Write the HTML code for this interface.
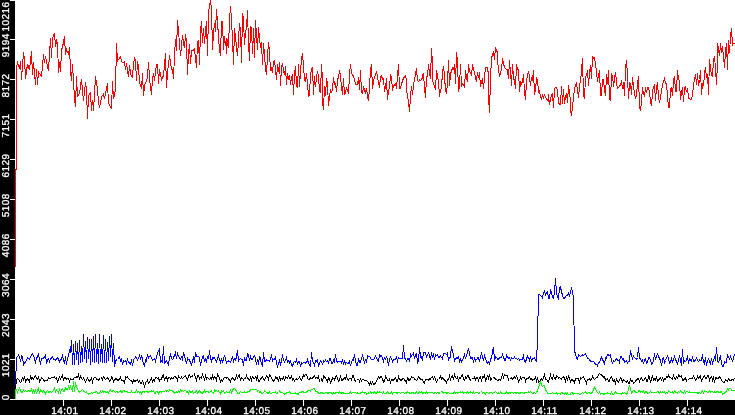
<!DOCTYPE html>
<html><head><meta charset="utf-8"><title>chart</title>
<style>
html,body{margin:0;padding:0;background:#fff;width:735px;height:415px;overflow:hidden;font-family:"Liberation Sans",sans-serif;}
</style></head>
<body>
<svg width="735" height="415" viewBox="0 0 735 415" style="position:absolute;left:0;top:0;display:block">
<rect x="0" y="0" width="735" height="415" fill="#fff"/>
<g fill="none" stroke-width="1" shape-rendering="crispEdges" stroke-linejoin="miter" stroke-linecap="butt">
<polyline stroke="#f00" points="15.5,266.5 15.5,169 16.5,169 16.5,67 17.5,62.5 19.5,68.5 20.5,61 21.5,79.5 23.5,52.5 24.5,59 25.5,78.5 27.5,64 29.5,70 31.5,51.5 32.5,75 33.5,62.5 35.5,84.5 36.5,69 37.5,84.5 38.5,72 41.5,76.5 43.5,54.5 44.5,63 45.5,56 48.5,71 50.5,38 51.5,58 52.5,38 54.5,33 55.5,47 56.5,40.5 57.5,43 58.5,73 59.5,62.5 60.5,72 61.5,50.5 63.5,42.5 64.5,36.5 65.5,55 66.5,49.5 68.5,54 69.5,47.5 70.5,70.5 71.5,81 72.5,64.5 74.5,98 75.5,107 76.5,76.5 77.5,96 79.5,93.5 81.5,79 83.5,101 85.5,82 86.5,90.5 87.5,118.5 88.5,96.5 90.5,92 91.5,111 92.5,100 93.5,110.5 95.5,76.5 97.5,89 98.5,102 99.5,108 101.5,97 103.5,94 104.5,99 107.5,83 108.5,103 111.5,109 112.5,81 113.5,99 115.5,90 116.5,43.5 117.5,61 118.5,59.5 120.5,57 121.5,61.5 122.5,62.5 124.5,62 125.5,70 126.5,63.5 128.5,77 129.5,65 130.5,73.5 132.5,78 133.5,63 134.5,58.5 135.5,60.5 136.5,80.5 137.5,61 138.5,66 139.5,82.5 141.5,88.5 142.5,73 143.5,96 144.5,85.5 146.5,80.5 147.5,77 148.5,62 149.5,78.5 151.5,94.5 152.5,78.5 153.5,73 154.5,80.5 156.5,64.5 157.5,64.5 158.5,83.5 159.5,69.5 161.5,79.5 163.5,75.5 164.5,64.5 165.5,53.5 166.5,88 167.5,72.5 169.5,55.5 171.5,69.5 172.5,69.5 173.5,78.5 174.5,55 175.5,39.5 176.5,51 177.5,20.5 178.5,31 179.5,43.5 180.5,56 182.5,35 183.5,43.5 184.5,48 185.5,34.5 186.5,42 187.5,75 188.5,53.5 189.5,44.5 190.5,64 191.5,50.5 193.5,50 194.5,49 196.5,68 197.5,42 198.5,41 199.5,65 200.5,30.5 201.5,21.5 202.5,43 203.5,28.5 204.5,43.5 205.5,31 206.5,21.5 207.5,56 208.5,13.5 209.5,5 210.5,0.5 211.5,8.5 212.5,50 213.5,33 214.5,23.5 215.5,32 216.5,9.5 217.5,21.5 218.5,37 219.5,50.5 220.5,56 221.5,21.5 222.5,21.5 223.5,49.5 224.5,36.5 225.5,45.5 226.5,38 226.5,53.5 227.5,39 228.5,48 229.5,19 230.5,6.5 231.5,20 232.5,39 233.5,65 234.5,28.5 235.5,37 236.5,47 237.5,56 239.5,23.5 240.5,29.5 241.5,63 242.5,13.5 243.5,19 244.5,45 245.5,31 246.5,29 247.5,10.5 248.5,43.5 249.5,61 250.5,26 251.5,29 252.5,53.5 253.5,28.5 254.5,57.5 255.5,20.5 256.5,34.5 257.5,50 258.5,27.5 259.5,38 260.5,47.5 261.5,42.5 262.5,65 263.5,43.5 264.5,54 265.5,69.5 266.5,75 267.5,56.5 268.5,42 269.5,52.5 270.5,70 271.5,68 272.5,73 273.5,61.5 274.5,61 275.5,69.5 276.5,80 277.5,64.5 278.5,72 279.5,62 280.5,86 281.5,67 282.5,63.5 283.5,71 284.5,75 285.5,66.5 286.5,85 287.5,73 288.5,78 289.5,75 290.5,84.5 291.5,78.5 292.5,74.5 293.5,94.5 294.5,73.5 295.5,66 296.5,85 297.5,88 298.5,64.5 299.5,87 300.5,71 301.5,59.5 302.5,53 303.5,67 304.5,79 305.5,82 306.5,73 307.5,84 308.5,96 309.5,95 310.5,74 311.5,69.5 312.5,67.5 313.5,94.5 314.5,76.5 315.5,87 316.5,77.5 317.5,71 318.5,77 319.5,90.5 320.5,92.5 321.5,64.5 322.5,79 322.5,101.5 323.5,110 324.5,86 325.5,95.5 326.5,78.5 327.5,84 328.5,106 329.5,96 330.5,89.5 331.5,93 332.5,88.5 333.5,77.5 334.5,84 335.5,83.5 336.5,92 337.5,79.5 338.5,77.5 339.5,70.5 340.5,76 341.5,87 342.5,95 343.5,78.5 344.5,95 345.5,92.5 346.5,87.5 347.5,91 348.5,93.5 349.5,74.5 350.5,64.5 351.5,72.5 352.5,75.5 353.5,76 354.5,80.5 355.5,84 357.5,84 358.5,77.5 359.5,90 360.5,70 361.5,92.5 362.5,93 363.5,86.5 364.5,90.5 365.5,93 366.5,88 367.5,96 368.5,101 369.5,87.5 370.5,69 371.5,64.5 372.5,88.5 373.5,82 374.5,76.5 375.5,75.5 376.5,71 377.5,76.5 378.5,82.5 379.5,88 380.5,76.5 381.5,76 382.5,79 383.5,78.5 384.5,92 385.5,87 386.5,78.5 387.5,100 388.5,90.5 389.5,87 390.5,75 391.5,76.5 392.5,90.5 393.5,85 394.5,85 395.5,84 396.5,88.5 397.5,76.5 398.5,64 399.5,88.5 400.5,88.5 401.5,84 402.5,81 403.5,78 405.5,76 406.5,79.5 406.5,90.5 407.5,95 408.5,102.5 409.5,111.5 410.5,97 411.5,86 412.5,95 413.5,84.5 414.5,79.5 415.5,74 416.5,68.5 417.5,80.5 418.5,81.5 419.5,80 420.5,80.5 422.5,78 422.5,76 423.5,73 424.5,88.5 425.5,98 426.5,77.5 427.5,75.5 428.5,64 429.5,74 430.5,78.5 431.5,48.5 432.5,63.5 432.5,81 434.5,86 435.5,90 436.5,70.5 437.5,76 438.5,81 439.5,97 440.5,89.5 441.5,88.5 442.5,71 443.5,66.5 444.5,75.5 445.5,91 446.5,93.5 447.5,83 448.5,60.5 449.5,85.5 450.5,74 451.5,71 452.5,68 453.5,69 454.5,64.5 455.5,84 456.5,52.5 457.5,61.5 458.5,92 459.5,86 460.5,64 461.5,86.5 462.5,83.5 463.5,84.5 464.5,88 465.5,70.5 466.5,78 467.5,82 468.5,64.5 469.5,71.5 470.5,72.5 471.5,76 472.5,64.5 473.5,70 474.5,71.5 475.5,79 476.5,81 477.5,72 478.5,77.5 479.5,72 480.5,87 481.5,81 482.5,78.5 483.5,89 484.5,76.5 485.5,67.5 487.5,67.5 488.5,75.5 488.5,97 489.5,112.5 490.5,78 491.5,58.5 492.5,54.5 493.5,52 494.5,59.5 495.5,47.5 496.5,51.5 497.5,52 497.5,60 498.5,69 499.5,77 501.5,69 502.5,58.5 503.5,63.5 504.5,67.5 506.5,69.5 507.5,70 508.5,79 509.5,60.5 510.5,72.5 511.5,85.5 512.5,64 513.5,78 514.5,81 515.5,89 516.5,64.5 517.5,69 518.5,69.5 519.5,92 520.5,81.5 521.5,84 522.5,81 523.5,74.5 524.5,92 525.5,99.5 526.5,81 527.5,75.5 528.5,71 529.5,77.5 530.5,85.5 531.5,77.5 532.5,80.5 533.5,70 534.5,95 535.5,89 536.5,78.5 537.5,80.5 538.5,92 539.5,90.5 540.5,96.5 541.5,100 542.5,94.5 543.5,98.5 544.5,94 545.5,97.5 547.5,100 548.5,101 548.5,94 549.5,105 550.5,100 551.5,95 552.5,94 553.5,108 554.5,89 555.5,87 556.5,87 557.5,91 558.5,103 559.5,104 560.5,104 561.5,86.5 562.5,103.5 563.5,89.5 564.5,103.5 565.5,96.5 566.5,93 567.5,103 568.5,85 569.5,92 570.5,101.5 570.5,110.5 571.5,116 572.5,107 573.5,96.5 574.5,90 575.5,84.5 576.5,83 577.5,90.5 578.5,98 579.5,85.5 580.5,81 581.5,70.5 582.5,58.5 583.5,95.5 584.5,98.5 585.5,77 586.5,75.5 587.5,70 588.5,85.5 589.5,72.5 590.5,65 591.5,78.5 592.5,56.5 593.5,58 594.5,57.5 595.5,64 596.5,72.5 597.5,81.5 598.5,75.5 599.5,70 600.5,95 601.5,95 602.5,79.5 603.5,79.5 604.5,90.5 605.5,96 606.5,74.5 607.5,83.5 608.5,70 609.5,99 610.5,101 611.5,73.5 612.5,76 613.5,86.5 614.5,79 615.5,72 616.5,82.5 617.5,88.5 618.5,87.5 619.5,86 620.5,85.5 621.5,80 622.5,89 623.5,82.5 624.5,95.5 625.5,68.5 626.5,60 627.5,75.5 628.5,99 629.5,83 630.5,84 631.5,94.5 632.5,77 633.5,87 634.5,93.5 635.5,99 636.5,95 637.5,84 638.5,76 639.5,107.5 640.5,111 641.5,100.5 642.5,87.5 643.5,93.5 644.5,97 645.5,87 646.5,93 647.5,87 648.5,87 649.5,92 650.5,101 651.5,106 652.5,92 653.5,86.5 654.5,85 655.5,100.5 656.5,88 657.5,82.5 658.5,96.5 659.5,103 660.5,96.5 661.5,92 662.5,85 663.5,81 664.5,78.5 665.5,83.5 666.5,84 667.5,96.5 668.5,107.5 669.5,107.5 670.5,89.5 671.5,87 672.5,96 673.5,81 674.5,76 675.5,91 676.5,91 677.5,70.5 678.5,78.5 679.5,81 680.5,100 681.5,92 682.5,87.5 683.5,102 684.5,88 685.5,87 686.5,92 687.5,88.5 688.5,98 690.5,99.5 691.5,99.5 692.5,95 693.5,85.5 694.5,79.5 695.5,74 696.5,84.5 697.5,73 698.5,86 699.5,79.5 700.5,70 701.5,94.5 702.5,83 703.5,86 704.5,74 705.5,67 706.5,78 707.5,74 708.5,94.5 709.5,59 710.5,68.5 711.5,75 712.5,76 713.5,60 714.5,56 715.5,68.5 716.5,84.5 717.5,61.5 717.5,43 718.5,49 719.5,56 720.5,43.5 721.5,52.5 722.5,46 724.5,67.5 725.5,51 726.5,43.5 727.5,69.5 728.5,40 729.5,53 730.5,36.5 731.5,28.5 732.5,45 733.5,43 735.5,43"/>
<polyline stroke="#0f0" points="15.5,398.5 15.5,390 16.5,389.5 17.5,392.5 18.5,390 19.5,388 20.5,390.5 21.5,392.5 22.5,392.5 23.5,390 24.5,391.5 25.5,390.5 26.5,391.5 27.5,391 28.5,390.5 29.5,391 30.5,391.5 31.5,389 32.5,393 33.5,390.5 34.5,392.5 35.5,390.5 36.5,393 37.5,390.5 38.5,388.5 39.5,393.5 40.5,390 41.5,391 42.5,392 43.5,391 44.5,391.5 45.5,393.5 46.5,391.5 47.5,390.5 48.5,392 49.5,392 50.5,391.5 51.5,392.5 52.5,391.5 53.5,390 54.5,388 55.5,392 56.5,390 57.5,391.5 58.5,393 59.5,389.5 60.5,392.5 61.5,389.5 62.5,388.5 63.5,391 64.5,391 65.5,388 66.5,389 67.5,389.5 68.5,386 69.5,388.5 70.5,386.5 71.5,389 72.5,391.5 73.5,381.5 74.5,391.5 75.5,382 76.5,387.5 77.5,389 78.5,390.5 79.5,392.5 80.5,391.5 81.5,390.5 82.5,389.5 83.5,391 84.5,391.5 85.5,392.5 86.5,392 87.5,393.5 88.5,394 89.5,393.5 90.5,393.5 91.5,392.5 92.5,393.5 93.5,392.5 94.5,392.5 95.5,392 96.5,391.5 97.5,393 98.5,393.5 99.5,393 100.5,391 101.5,392.5 102.5,391 103.5,392 104.5,391.5 105.5,392 106.5,392.5 107.5,392 108.5,393 109.5,391 110.5,390 111.5,391.5 112.5,391 113.5,390.5 114.5,391.5 115.5,392.5 116.5,391.5 117.5,392 118.5,392.5 119.5,391.5 120.5,391 121.5,392 122.5,392 123.5,390.5 124.5,391 125.5,391.5 126.5,391.5 127.5,392 128.5,392 129.5,392.5 130.5,392.5 131.5,391 132.5,392.5 133.5,392.5 134.5,392.5 135.5,392.5 136.5,390 137.5,392 138.5,391.5 139.5,393 140.5,391.5 141.5,393.5 142.5,391.5 143.5,391.5 144.5,392 145.5,391 146.5,391 147.5,392 148.5,392 149.5,391.5 150.5,391.5 151.5,391 152.5,391.5 153.5,391 154.5,393.5 155.5,393 156.5,391.5 157.5,391.5 158.5,393.5 159.5,391.5 160.5,391.5 161.5,392 162.5,391 163.5,391 164.5,391.5 165.5,390.5 166.5,391 167.5,390.5 168.5,391.5 169.5,390 170.5,390.5 171.5,390.5 172.5,391 173.5,392 174.5,393 175.5,392.5 176.5,392 177.5,392.5 178.5,391 179.5,392.5 180.5,390 181.5,391 182.5,390.5 183.5,391.5 184.5,390.5 185.5,390.5 186.5,392 187.5,391.5 188.5,393.5 189.5,390.5 190.5,392 191.5,392 192.5,391 193.5,393 194.5,392 195.5,392 196.5,391 197.5,393 198.5,392 199.5,391 200.5,392 201.5,393 202.5,393 203.5,392.5 204.5,390.5 205.5,392.5 206.5,391.5 207.5,391.5 208.5,392 209.5,392.5 210.5,391.5 211.5,391 212.5,392.5 213.5,393.5 214.5,390 215.5,391 216.5,390.5 217.5,391.5 218.5,391 219.5,392.5 220.5,394 221.5,391 222.5,391.5 223.5,391 224.5,393.5 225.5,392.5 226.5,391.5 227.5,392.5 228.5,392 229.5,392 230.5,390 231.5,392.5 232.5,390.5 233.5,388.5 234.5,388.5 235.5,389.5 236.5,391.5 237.5,393 238.5,393.5 239.5,393 240.5,391.5 241.5,392.5 242.5,392.5 243.5,392.5 244.5,392 245.5,392.5 246.5,392 247.5,392 248.5,391.5 249.5,391 250.5,390 251.5,389 252.5,389 253.5,389.5 254.5,389.5 255.5,389 256.5,389 257.5,391.5 258.5,390.5 259.5,392 260.5,391.5 261.5,393.5 262.5,393.5 263.5,392.5 264.5,391 265.5,391.5 266.5,392.5 267.5,393 268.5,393 269.5,392 270.5,393.5 271.5,393.5 272.5,392.5 273.5,392.5 274.5,392.5 275.5,392 276.5,393.5 277.5,393 278.5,392.5 279.5,391 280.5,392 281.5,392 282.5,392.5 283.5,393.5 284.5,394 285.5,393 286.5,393 287.5,392.5 288.5,392.5 289.5,391.5 290.5,393.5 291.5,393 292.5,393 293.5,393 294.5,393.5 295.5,393 296.5,393.5 297.5,394 298.5,394 299.5,392.5 300.5,392.5 301.5,392 302.5,391.5 303.5,392 304.5,392.5 305.5,392 306.5,392 307.5,391 308.5,390.5 309.5,390.5 310.5,391 311.5,389.5 312.5,389.5 313.5,388.5 314.5,389 315.5,391 316.5,391 317.5,392 318.5,393 319.5,393.5 320.5,393 321.5,392.5 322.5,393 323.5,393.5 324.5,393.5 325.5,392.5 326.5,392.5 327.5,393 328.5,393 329.5,392.5 330.5,392.5 331.5,393 332.5,394 333.5,393 334.5,393.5 335.5,393 336.5,392.5 337.5,392.5 338.5,393 339.5,392 340.5,393 341.5,393 342.5,392.5 343.5,393 344.5,393 345.5,393.5 346.5,393.5 347.5,393 348.5,393 349.5,393 350.5,392 351.5,393.5 352.5,392.5 353.5,392.5 354.5,392.5 355.5,392.5 356.5,393.5 357.5,393 358.5,393.5 359.5,393 360.5,393 361.5,392.5 362.5,392 363.5,392.5 364.5,393 365.5,392.5 366.5,394 367.5,393.5 368.5,393 369.5,393.5 370.5,392 371.5,393 372.5,392.5 373.5,393 374.5,392 375.5,393 376.5,393 377.5,392 378.5,392.5 379.5,392 380.5,392.5 381.5,392.5 382.5,393.5 383.5,392 384.5,393.5 385.5,393 386.5,393 387.5,392 388.5,393 389.5,393.5 390.5,393 391.5,392 392.5,394 393.5,392.5 394.5,392 395.5,392 396.5,393 397.5,393 398.5,392.5 399.5,392.5 400.5,393.5 401.5,392.5 402.5,392.5 403.5,392.5 404.5,393.5 405.5,392.5 406.5,393 407.5,392 408.5,392.5 409.5,393 410.5,393 411.5,393 412.5,392.5 413.5,393 414.5,393 415.5,393 416.5,392 417.5,393.5 418.5,393 419.5,392 420.5,392.5 421.5,392 422.5,393 423.5,393 424.5,392.5 425.5,393.5 426.5,391.5 427.5,393 428.5,392.5 429.5,392.5 430.5,392 431.5,392 432.5,392 433.5,393.5 434.5,393 435.5,392.5 436.5,393.5 437.5,392.5 438.5,393 439.5,393 440.5,392.5 441.5,391.5 442.5,392 443.5,393 444.5,392 445.5,392 446.5,393 447.5,393 448.5,392.5 449.5,393.5 450.5,393 451.5,393 452.5,393 453.5,393 454.5,392 455.5,393 456.5,392.5 457.5,393 458.5,392.5 459.5,392.5 460.5,392 461.5,392.5 462.5,392 463.5,393 464.5,392 465.5,392 466.5,393 467.5,392 468.5,393 469.5,392.5 470.5,392 471.5,392.5 472.5,393 473.5,392 474.5,393.5 475.5,392 476.5,392 477.5,392.5 478.5,393.5 479.5,393 480.5,392.5 481.5,391.5 482.5,393 483.5,392.5 484.5,393 485.5,394 486.5,392.5 487.5,392.5 488.5,393.5 489.5,393 490.5,392.5 491.5,392.5 492.5,393.5 493.5,392.5 494.5,392.5 495.5,391.5 496.5,392.5 497.5,393.5 498.5,393 499.5,393.5 500.5,392 501.5,393 502.5,393 503.5,393 504.5,393 505.5,393 506.5,391.5 507.5,393.5 508.5,393 509.5,392.5 510.5,393 511.5,392.5 512.5,392.5 513.5,393.5 514.5,392.5 515.5,393 516.5,393 517.5,392.5 518.5,393 519.5,393.5 520.5,393 521.5,392.5 522.5,392.5 523.5,393.5 524.5,393 525.5,392.5 526.5,392.5 527.5,392.5 528.5,392 529.5,392.5 530.5,391.5 531.5,392.5 532.5,393.5 533.5,393 534.5,392.5 535.5,393.5 536.5,392 537.5,391 538.5,387.5 539.5,384 540.5,382 541.5,385 542.5,386.5 543.5,385.5 544.5,386 545.5,389.5 546.5,391.5 547.5,393 548.5,393.5 549.5,393.5 550.5,393.5 551.5,393.5 552.5,392.5 553.5,393.5 554.5,393.5 555.5,393.5 556.5,393 557.5,394 558.5,393.5 559.5,393.5 560.5,394 561.5,392.5 562.5,393 563.5,393.5 564.5,394.5 565.5,392.5 566.5,394 567.5,393 568.5,394.5 569.5,394 570.5,394 571.5,392.5 572.5,392.5 573.5,394.5 574.5,393 575.5,393 576.5,393.5 577.5,393 578.5,393 579.5,394.5 580.5,394.5 581.5,393.5 582.5,392.5 583.5,393.5 584.5,392.5 585.5,392 586.5,393 587.5,393.5 588.5,392.5 589.5,393 590.5,393 591.5,393 592.5,392.5 593.5,389.5 594.5,387.5 595.5,389.5 596.5,391 597.5,392.5 598.5,393.5 599.5,392 600.5,394 601.5,393.5 602.5,393.5 603.5,394 604.5,394 605.5,393.5 606.5,393.5 607.5,393 608.5,393.5 609.5,393.5 610.5,394 611.5,392 612.5,394 613.5,394.5 614.5,393 615.5,391.5 616.5,393.5 617.5,393 618.5,393 619.5,393 620.5,393.5 621.5,394 622.5,393 623.5,393.5 624.5,392.5 625.5,393.5 626.5,394 627.5,393 628.5,389.5 629.5,385 630.5,389 631.5,393 632.5,392 633.5,390.5 634.5,391 635.5,392 636.5,392.5 637.5,392.5 638.5,391 639.5,390.5 640.5,392.5 641.5,391.5 642.5,392 643.5,391 644.5,393 645.5,392 646.5,391.5 647.5,393.5 648.5,393.5 649.5,392.5 650.5,391 651.5,392.5 652.5,392 653.5,392 654.5,392.5 655.5,392.5 656.5,392.5 657.5,391.5 658.5,392 659.5,393 660.5,392 661.5,392.5 662.5,392 663.5,392.5 664.5,392 665.5,393.5 666.5,392.5 667.5,393 668.5,391 669.5,391.5 670.5,392.5 671.5,392.5 672.5,392 673.5,393 674.5,391 675.5,392 676.5,392.5 677.5,393 678.5,391.5 679.5,392.5 680.5,391 681.5,392 682.5,392.5 683.5,393 684.5,391 685.5,393 686.5,391.5 687.5,391.5 688.5,392.5 689.5,392 690.5,392.5 691.5,392 692.5,392 693.5,392 694.5,392 695.5,392 696.5,392 697.5,393 698.5,393 699.5,392.5 700.5,393.5 701.5,392 702.5,391 703.5,393 704.5,391 705.5,391.5 706.5,391.5 707.5,392.5 708.5,392 709.5,391 710.5,392 711.5,391.5 712.5,391.5 713.5,392.5 714.5,392 715.5,392.5 716.5,392 717.5,391.5 718.5,392 719.5,392.5 720.5,392 721.5,391.5 722.5,394 723.5,393.5 724.5,393.5 725.5,391.5 726.5,391 727.5,389 728.5,390 729.5,388.5 730.5,388.5 731.5,390 732.5,390 733.5,390.5 734.5,391"/>
<polyline stroke="#000" points="15.5,389.5 16.5,379.5 17.5,378.5 18.5,379.5 19.5,381 20.5,382.5 21.5,381.5 22.5,377 23.5,380.5 24.5,376 25.5,381.5 26.5,379.5 27.5,379 28.5,379.5 29.5,382.5 30.5,375.5 31.5,379 32.5,378 33.5,379 34.5,376.5 35.5,376 36.5,378 37.5,379.5 38.5,376.5 39.5,382 40.5,379.5 41.5,378 42.5,378.5 43.5,379.5 44.5,381.5 45.5,380 46.5,380 47.5,380.5 48.5,378 49.5,378.5 50.5,378.5 51.5,377.5 52.5,377.5 53.5,377.5 54.5,377 55.5,378.5 56.5,377.5 57.5,382 58.5,379.5 59.5,377 60.5,379 61.5,377.5 62.5,375.5 63.5,380 64.5,378 65.5,377.5 66.5,379.5 67.5,378.5 68.5,378.5 69.5,381.5 70.5,378.5 71.5,379.5 72.5,379.5 73.5,379 74.5,377.5 75.5,377.5 76.5,377 77.5,377.5 78.5,374.5 79.5,379 80.5,376.5 81.5,378.5 82.5,379.5 83.5,378 84.5,380.5 85.5,382 86.5,380 87.5,378 88.5,379.5 89.5,381.5 90.5,380.5 91.5,378.5 92.5,382 93.5,378.5 94.5,377.5 95.5,377.5 96.5,379 97.5,379 98.5,380 99.5,379 100.5,378.5 101.5,377.5 102.5,379.5 103.5,377 104.5,378 105.5,379.5 106.5,378.5 107.5,378 108.5,379 109.5,381 110.5,380.5 111.5,377 112.5,377.5 113.5,382 114.5,379.5 115.5,379 116.5,378.5 117.5,380.5 118.5,380 119.5,379.5 120.5,377.5 121.5,380 122.5,380.5 123.5,380.5 124.5,383.5 125.5,377 126.5,377.5 127.5,377 128.5,378.5 129.5,379.5 130.5,380.5 131.5,380.5 132.5,383 133.5,380 134.5,381 135.5,381 136.5,380.5 137.5,380 138.5,382 139.5,381 140.5,383.5 141.5,383.5 142.5,381 143.5,383 144.5,386.5 145.5,383 146.5,382.5 147.5,380 148.5,383.5 149.5,382 150.5,380.5 151.5,378 152.5,382 153.5,379.5 154.5,381 155.5,377 156.5,377 157.5,378.5 158.5,378 159.5,381 160.5,379.5 161.5,379 162.5,376 163.5,375 164.5,380.5 165.5,377.5 166.5,376.5 167.5,380.5 168.5,377.5 169.5,377.5 170.5,379 171.5,378 172.5,378.5 173.5,378 174.5,376.5 175.5,377 176.5,378 177.5,380.5 178.5,376 179.5,377.5 180.5,378.5 181.5,377 182.5,378.5 183.5,377.5 184.5,376.5 185.5,375.5 186.5,378 187.5,380 188.5,376 189.5,375 190.5,377.5 191.5,376 192.5,376 193.5,375.5 194.5,374 195.5,377.5 196.5,380.5 197.5,376 198.5,375.5 199.5,379 200.5,377.5 201.5,378.5 202.5,374.5 203.5,377 204.5,379.5 205.5,376 206.5,379 207.5,377.5 208.5,378.5 209.5,379.5 210.5,378 211.5,379 212.5,376 213.5,379 214.5,376.5 215.5,378 216.5,380.5 217.5,374.5 218.5,376.5 219.5,378 220.5,381.5 221.5,379.5 222.5,381 223.5,379 224.5,377 225.5,377 226.5,378 227.5,377.5 228.5,379 229.5,379.5 230.5,381.5 231.5,379 232.5,378 233.5,378.5 234.5,380.5 235.5,379 236.5,375.5 237.5,378 238.5,376 239.5,375 240.5,380 241.5,377.5 242.5,378.5 243.5,380 244.5,378.5 245.5,378.5 246.5,375.5 247.5,378.5 248.5,379 249.5,380 250.5,377.5 251.5,380.5 252.5,376.5 253.5,378 254.5,378.5 255.5,377 256.5,379.5 257.5,375.5 258.5,381.5 259.5,381.5 260.5,379 261.5,378 262.5,376.5 263.5,379 264.5,380.5 265.5,378 266.5,375.5 267.5,376.5 268.5,379.5 269.5,375 270.5,375.5 271.5,378.5 272.5,379.5 273.5,381.5 274.5,380.5 275.5,377 276.5,378 277.5,377.5 278.5,382 279.5,376.5 280.5,380 281.5,378.5 282.5,379 283.5,377 284.5,381 285.5,377 286.5,377.5 287.5,378.5 288.5,376 289.5,378.5 290.5,378.5 291.5,376 292.5,380.5 293.5,379 294.5,381 295.5,379.5 296.5,379 297.5,379.5 298.5,378.5 299.5,377 300.5,379 301.5,380 302.5,378 303.5,375 304.5,376 305.5,374 306.5,374 307.5,378 308.5,379.5 309.5,379.5 310.5,377.5 311.5,378.5 312.5,378.5 313.5,376.5 314.5,375.5 315.5,378 316.5,377.5 317.5,378.5 318.5,376.5 319.5,381 320.5,380.5 321.5,379 322.5,382 323.5,376 324.5,376.5 325.5,378.5 326.5,379.5 327.5,381.5 328.5,377.5 329.5,379 330.5,383 331.5,381 332.5,378 333.5,378.5 334.5,380 335.5,377 336.5,376 337.5,378.5 338.5,381 339.5,380.5 340.5,375.5 341.5,380.5 342.5,380.5 343.5,378.5 344.5,378 345.5,379 346.5,376 347.5,379.5 348.5,380.5 349.5,378 350.5,378 351.5,380 352.5,376 353.5,375.5 354.5,380 355.5,381 356.5,380.5 357.5,379 358.5,379 359.5,381.5 360.5,379 361.5,381 362.5,379.5 363.5,379.5 364.5,380.5 365.5,380 366.5,380 367.5,381.5 368.5,383 369.5,385 370.5,382 371.5,384 372.5,382 373.5,384.5 374.5,384 375.5,383.5 376.5,380.5 377.5,379 378.5,377 379.5,378.5 380.5,376.5 381.5,376.5 382.5,379 383.5,382 384.5,381.5 385.5,376 386.5,378 387.5,380.5 388.5,380.5 389.5,379 390.5,382.5 391.5,379.5 392.5,380 393.5,380 394.5,379 395.5,377.5 396.5,381 397.5,381 398.5,376.5 399.5,379.5 400.5,380 401.5,380 402.5,379 403.5,378.5 404.5,379.5 405.5,381.5 406.5,383 407.5,377 408.5,380 409.5,380 410.5,379 411.5,376.5 412.5,377.5 413.5,377.5 414.5,379 415.5,379 416.5,380.5 417.5,379.5 418.5,376.5 419.5,378 420.5,379 421.5,379.5 422.5,380 423.5,382 424.5,383 425.5,379.5 426.5,379.5 427.5,379.5 428.5,380.5 429.5,378.5 430.5,379 431.5,377.5 432.5,376.5 433.5,379 434.5,377 435.5,379.5 436.5,382 437.5,380 438.5,379.5 439.5,378 440.5,376 441.5,379 442.5,378 443.5,379 444.5,380 445.5,380.5 446.5,382.5 447.5,380 448.5,379.5 449.5,376 450.5,379.5 451.5,377 452.5,376 453.5,379.5 454.5,374.5 455.5,377.5 456.5,378.5 457.5,377 458.5,380.5 459.5,377.5 460.5,378.5 461.5,375.5 462.5,374.5 463.5,379.5 464.5,380.5 465.5,377 466.5,378.5 467.5,375.5 468.5,375.5 469.5,379.5 470.5,380 471.5,379.5 472.5,378.5 473.5,378.5 474.5,377 475.5,380 476.5,378 477.5,377.5 478.5,380.5 479.5,378 480.5,377 481.5,380.5 482.5,377 483.5,377.5 484.5,374.5 485.5,381.5 486.5,377.5 487.5,376 488.5,378.5 489.5,374.5 490.5,380 491.5,379 492.5,378.5 493.5,377.5 494.5,378 495.5,379 496.5,379 497.5,380.5 498.5,380 499.5,379.5 500.5,380.5 501.5,377.5 502.5,374.5 503.5,377.5 504.5,374.5 505.5,375.5 506.5,375.5 507.5,375.5 508.5,380 509.5,379.5 510.5,378.5 511.5,378 512.5,379 513.5,378 514.5,377 515.5,378 516.5,376 517.5,378 518.5,382 519.5,380.5 520.5,377 521.5,379 522.5,377.5 523.5,377.5 524.5,377.5 525.5,381 526.5,378 527.5,378 528.5,378 529.5,377 530.5,379.5 531.5,379 532.5,380 533.5,379.5 534.5,379 535.5,377 536.5,381 537.5,377.5 538.5,382.5 539.5,381.5 540.5,380 541.5,379 542.5,380.5 543.5,378 544.5,375 545.5,379 546.5,379 547.5,381 548.5,382 549.5,378.5 550.5,375 551.5,378.5 552.5,379 553.5,375.5 554.5,378.5 555.5,379 556.5,376 557.5,376.5 558.5,378 559.5,377.5 560.5,378.5 561.5,379 562.5,377.5 563.5,376.5 564.5,378.5 565.5,381.5 566.5,377.5 567.5,381 568.5,376 569.5,378 570.5,382 571.5,379.5 572.5,380 573.5,380.5 574.5,382.5 575.5,378.5 576.5,378.5 577.5,378.5 578.5,379 579.5,382 580.5,378 581.5,378.5 582.5,377.5 583.5,377 584.5,379.5 585.5,380.5 586.5,383.5 587.5,379.5 588.5,379.5 589.5,379 590.5,380 591.5,379.5 592.5,376 593.5,378.5 594.5,379.5 595.5,378.5 596.5,377.5 597.5,377 598.5,375 599.5,373.5 600.5,374.5 601.5,375 602.5,375.5 603.5,377.5 604.5,376.5 605.5,380.5 606.5,379.5 607.5,378.5 608.5,381 609.5,381.5 610.5,377.5 611.5,377 612.5,379.5 613.5,381.5 614.5,380 615.5,383 616.5,379 617.5,381.5 618.5,382 619.5,380.5 620.5,377.5 621.5,379 622.5,382 623.5,380 624.5,380.5 625.5,381.5 626.5,382 627.5,381 628.5,383.5 629.5,383.5 630.5,379.5 631.5,381.5 632.5,380.5 633.5,383.5 634.5,382.5 635.5,381 636.5,380 637.5,379 638.5,378.5 639.5,381.5 640.5,379 641.5,377.5 642.5,380 643.5,380.5 644.5,379 645.5,377.5 646.5,381 647.5,381.5 648.5,376 649.5,377 650.5,382.5 651.5,378.5 652.5,376 653.5,380 654.5,379 655.5,380.5 656.5,376 657.5,381 658.5,380.5 659.5,378.5 660.5,378 661.5,380 662.5,378 663.5,380.5 664.5,378.5 665.5,379.5 666.5,376.5 667.5,377.5 668.5,375.5 669.5,377.5 670.5,377.5 671.5,378.5 672.5,379 673.5,375.5 674.5,378 675.5,379 676.5,377 677.5,378.5 678.5,375 679.5,376 680.5,376.5 681.5,376 682.5,380 683.5,380 684.5,379 685.5,378 686.5,381 687.5,380.5 688.5,379.5 689.5,378.5 690.5,378 691.5,378 692.5,378.5 693.5,376 694.5,378 695.5,380 696.5,379 697.5,376.5 698.5,378.5 699.5,377 700.5,376 701.5,382 702.5,378.5 703.5,377 704.5,376 705.5,378 706.5,378 707.5,375.5 708.5,376 709.5,380.5 710.5,378 711.5,376.5 712.5,380 713.5,376.5 714.5,382.5 715.5,377.5 716.5,378 717.5,378 718.5,378.5 719.5,376.5 720.5,377.5 721.5,380 722.5,381.5 723.5,382.5 724.5,382 725.5,380 726.5,380.5 727.5,381 728.5,378.5 729.5,380 730.5,380.5 731.5,380 732.5,379.5 733.5,380.5 734.5,378"/>
<polyline stroke="#00f" points="15.5,385 16.5,357.5 17.5,356.5 18.5,355 19.5,356.5 20.5,362 21.5,356 22.5,356.5 23.5,365.5 24.5,363 25.5,362 26.5,360 27.5,358 28.5,358.5 29.5,359.5 30.5,357 31.5,355 32.5,353.5 33.5,356 34.5,357.5 35.5,363.5 36.5,357 37.5,357 38.5,353.5 39.5,360 40.5,363 41.5,359 42.5,358.5 43.5,358 44.5,357.5 45.5,354.5 46.5,364 47.5,359.5 48.5,358.5 49.5,361.5 50.5,359 51.5,358 52.5,357 53.5,359 54.5,359.5 55.5,360 56.5,359.5 57.5,357.5 58.5,359 59.5,362 60.5,360.5 61.5,358.5 62.5,355.5 63.5,360 64.5,364 65.5,356.5 66.5,365 67.5,357.5 68.5,356 69.5,350 70.5,352 71.5,340 72.5,364.5 73.5,344.5 74.5,364.5 75.5,341 76.5,360 77.5,343 78.5,364.5 79.5,340 80.5,363 81.5,346.5 82.5,362 83.5,334 84.5,359 85.5,341 86.5,363 87.5,337 88.5,359 89.5,339 90.5,364.5 91.5,339 92.5,362 93.5,336.5 94.5,363 95.5,334 96.5,362 97.5,343.5 98.5,364 99.5,334 100.5,362 101.5,344.5 102.5,363 103.5,335.5 104.5,363 105.5,339 106.5,363 107.5,342.5 108.5,361 109.5,336.5 110.5,357 111.5,334 112.5,362 113.5,343.5 114.5,366.5 115.5,361 116.5,360 117.5,359.5 118.5,358 119.5,356.5 120.5,362 121.5,358.5 122.5,365 123.5,361 124.5,361.5 125.5,360.5 126.5,363.5 127.5,359.5 128.5,362 129.5,363 130.5,364 131.5,361 132.5,365.5 133.5,360 134.5,358.5 135.5,357 136.5,357.5 137.5,360 138.5,359.5 139.5,355.5 140.5,358.5 141.5,356 142.5,359 143.5,364.5 144.5,366 145.5,360 146.5,361 147.5,354 148.5,358 149.5,356.5 150.5,356 151.5,358.5 152.5,360 153.5,359.5 154.5,359 155.5,361.5 156.5,357 157.5,352.5 158.5,351.5 159.5,349.5 160.5,363 161.5,360.5 162.5,362 163.5,346.5 164.5,364 165.5,361.5 166.5,361 167.5,363.5 168.5,365 169.5,357 170.5,354.5 171.5,358.5 172.5,359.5 173.5,358 174.5,355 175.5,352.5 176.5,358.5 177.5,353.5 178.5,356 179.5,358.5 180.5,359.5 181.5,356 182.5,360.5 183.5,352.5 184.5,355 185.5,360 186.5,363.5 187.5,358 188.5,359.5 189.5,360 190.5,363 191.5,365 192.5,360.5 193.5,357.5 194.5,362.5 195.5,352.5 196.5,356 197.5,356 198.5,356.5 199.5,358 200.5,365.5 201.5,361 202.5,357 203.5,355.5 204.5,361.5 205.5,358 206.5,363 207.5,356 208.5,359 209.5,350.5 210.5,359 211.5,361.5 212.5,357.5 213.5,358 214.5,357.5 215.5,360 216.5,362 217.5,358.5 218.5,355.5 219.5,360 220.5,362.5 221.5,358.5 222.5,362.5 223.5,358.5 224.5,356 225.5,358.5 226.5,363 227.5,361.5 228.5,361 229.5,361.5 230.5,362 231.5,360 232.5,356.5 233.5,361.5 234.5,359 235.5,360 236.5,357 237.5,350 238.5,361 239.5,359.5 240.5,358.5 241.5,359.5 242.5,359.5 243.5,365.5 244.5,357.5 245.5,360 246.5,360.5 247.5,353.5 248.5,355 249.5,360.5 250.5,356.5 251.5,359.5 252.5,359 253.5,357 254.5,356 255.5,358.5 256.5,364.5 257.5,359.5 258.5,365 259.5,356 260.5,359 261.5,364 262.5,366.5 263.5,352.5 264.5,361 265.5,361.5 266.5,359.5 267.5,360.5 268.5,360.5 269.5,361.5 270.5,358 271.5,355.5 272.5,361 273.5,359.5 274.5,359.5 275.5,356 276.5,364 277.5,366.5 278.5,364 279.5,361 280.5,364 281.5,361 282.5,354.5 283.5,360.5 284.5,362 285.5,360 286.5,357.5 287.5,362 288.5,360.5 289.5,363 290.5,360 291.5,365.5 292.5,366 293.5,363 294.5,361.5 295.5,362 296.5,359.5 297.5,365 298.5,361.5 299.5,361.5 300.5,367 301.5,362.5 302.5,363.5 303.5,362 304.5,362 305.5,363 306.5,362.5 307.5,359.5 308.5,363.5 309.5,364.5 310.5,367 311.5,352.5 312.5,361 313.5,363 314.5,365.5 315.5,360.5 316.5,361 317.5,360 318.5,365.5 319.5,363.5 320.5,360.5 321.5,361.5 322.5,365 323.5,360.5 324.5,361.5 325.5,360 326.5,361.5 327.5,360.5 328.5,363 329.5,359 330.5,358.5 331.5,363.5 332.5,363.5 333.5,360.5 334.5,363 335.5,354 336.5,361.5 337.5,362 338.5,361.5 339.5,361.5 340.5,361.5 341.5,363 342.5,359.5 343.5,365 344.5,360.5 345.5,364 346.5,362.5 347.5,363.5 348.5,363.5 349.5,361.5 350.5,366 351.5,362.5 352.5,359.5 353.5,360 354.5,354 355.5,361 356.5,365.5 357.5,365.5 358.5,358.5 359.5,362 360.5,362.5 361.5,358.5 362.5,355.5 363.5,359 364.5,362.5 365.5,360 366.5,362 367.5,356 368.5,356.5 369.5,356.5 370.5,358 371.5,359.5 372.5,359.5 373.5,359.5 374.5,358.5 375.5,356 376.5,358.5 377.5,359.5 378.5,362 379.5,354 380.5,356.5 381.5,356 382.5,358.5 383.5,361.5 384.5,357.5 385.5,359 386.5,357 387.5,359.5 388.5,366 389.5,358.5 390.5,357 391.5,358.5 392.5,362 393.5,359.5 394.5,359.5 395.5,359.5 396.5,357 397.5,361 398.5,357.5 399.5,358.5 400.5,358.5 401.5,358.5 402.5,358.5 403.5,345.5 404.5,358 405.5,359 406.5,361 407.5,359 408.5,358.5 409.5,362 410.5,353.5 411.5,356 412.5,354.5 413.5,353 414.5,359 415.5,355.5 416.5,353 417.5,363 418.5,361.5 419.5,347 420.5,357.5 421.5,356.5 422.5,360.5 423.5,352.5 424.5,352.5 425.5,352.5 426.5,357 427.5,355.5 428.5,353 429.5,355.5 430.5,359.5 431.5,352.5 432.5,358 433.5,353.5 434.5,359.5 435.5,354.5 436.5,355.5 437.5,354.5 438.5,357.5 439.5,357 440.5,356 441.5,357.5 442.5,359 443.5,353.5 444.5,353 445.5,353 446.5,354.5 447.5,353 448.5,361 449.5,357.5 450.5,357 451.5,346 452.5,351.5 453.5,354.5 454.5,361 455.5,359.5 456.5,357.5 457.5,358 458.5,356.5 459.5,361.5 460.5,359 461.5,362 462.5,361.5 463.5,357.5 464.5,354.5 465.5,359 466.5,355.5 467.5,352 468.5,348 469.5,353.5 470.5,358 471.5,358 472.5,357.5 473.5,362.5 474.5,357 475.5,361 476.5,359.5 477.5,358 478.5,357.5 479.5,362 480.5,357 481.5,353.5 482.5,356 483.5,361 484.5,355.5 485.5,358 486.5,362.5 487.5,363 488.5,361.5 489.5,365 490.5,359.5 491.5,357.5 492.5,352 493.5,347 494.5,360.5 495.5,357 496.5,357.5 497.5,359 498.5,359 499.5,358 500.5,357.5 501.5,357.5 502.5,354.5 503.5,357 504.5,360 505.5,360.5 506.5,355.5 507.5,357.5 508.5,358 509.5,357.5 510.5,360 511.5,358 512.5,358.5 513.5,358.5 514.5,357 515.5,358.5 516.5,358.5 517.5,359.5 518.5,358.5 519.5,360 520.5,359.5 521.5,359 522.5,359 523.5,356 524.5,361 525.5,362 526.5,359 527.5,356 528.5,358 529.5,360.5 530.5,356 531.5,362 532.5,358.5 533.5,358.5 534.5,358 535.5,360 536.5,361 537.5,339 538.5,295 539.5,294.5 541.5,296.5 542.5,298 543.5,293 544.5,291 545.5,295 546.5,293 547.5,291.5 548.5,298 549.5,298 550.5,290 551.5,292 552.5,297 553.5,298 554.5,292.5 555.5,278.5 556.5,292.5 557.5,297.5 558.5,299 559.5,287.5 560.5,287 561.5,292 562.5,295 563.5,298.5 564.5,298.5 565.5,296.5 566.5,295 567.5,295 568.5,293 569.5,297 570.5,292 571.5,288.5 572.5,291 573.5,298.5 574.5,351.5 575.5,353.5 576.5,358 577.5,359.5 578.5,355 579.5,355.5 580.5,356.5 581.5,355.5 582.5,355 583.5,355.5 584.5,354.5 585.5,354 586.5,356 587.5,358 588.5,358.5 589.5,360 590.5,361 591.5,361.5 592.5,361.5 593.5,361.5 594.5,362.5 595.5,364.5 596.5,364.5 597.5,366 598.5,362 599.5,362 600.5,360 601.5,357 602.5,359.5 603.5,361.5 604.5,365 605.5,357.5 606.5,358.5 607.5,354.5 608.5,355 609.5,355.5 610.5,355 611.5,361 612.5,363 613.5,361 614.5,361.5 615.5,360.5 616.5,358.5 617.5,360 618.5,360 619.5,362.5 620.5,356.5 621.5,357 622.5,359.5 623.5,358.5 624.5,362.5 625.5,361.5 626.5,361 627.5,363 628.5,361 629.5,361 630.5,350 631.5,356 632.5,358.5 633.5,356 634.5,357.5 635.5,358.5 636.5,359.5 637.5,357.5 638.5,347 639.5,358 640.5,359 641.5,361 642.5,360 643.5,364 644.5,360 645.5,358.5 646.5,363 647.5,362 648.5,357.5 649.5,358 650.5,360 651.5,364 652.5,363 653.5,360.5 654.5,353 655.5,360 656.5,356 657.5,354 658.5,356 659.5,359 660.5,359.5 661.5,366 662.5,360 663.5,357 664.5,362.5 665.5,360.5 666.5,358 667.5,356 668.5,358.5 669.5,363.5 670.5,362 671.5,359 672.5,362 673.5,360.5 674.5,355.5 675.5,360.5 676.5,361 677.5,364.5 678.5,360 679.5,355.5 680.5,360.5 681.5,366 682.5,349.5 683.5,364 684.5,360.5 685.5,361.5 686.5,360 687.5,357 688.5,362 689.5,359 690.5,360 691.5,361.5 692.5,356 693.5,361 694.5,361.5 695.5,359.5 696.5,358 697.5,360.5 698.5,361.5 699.5,360 700.5,360.5 701.5,360 702.5,354.5 703.5,362.5 704.5,364 705.5,357 706.5,366 707.5,360.5 708.5,359 709.5,361 710.5,364.5 711.5,358.5 712.5,363.5 713.5,361 714.5,357.5 715.5,361 716.5,347 717.5,361 718.5,362 719.5,360 720.5,355 721.5,364.5 722.5,366 723.5,366 724.5,361.5 725.5,362.5 726.5,362.5 727.5,354.5 728.5,357.5 729.5,359 730.5,356.5 731.5,359 732.5,361 733.5,358.5 734.5,354.5"/>
</g>
<g shape-rendering="crispEdges">
<rect x="0" y="0" width="15" height="415" fill="#000"/>
<rect x="0" y="400" width="735" height="15" fill="#000"/>
<rect x="10" y="399" width="5" height="1" fill="#fff"/>
<rect x="10" y="359" width="5" height="1" fill="#fff"/>
<rect x="10" y="319" width="5" height="1" fill="#fff"/>
<rect x="10" y="279" width="5" height="1" fill="#fff"/>
<rect x="10" y="239" width="5" height="1" fill="#fff"/>
<rect x="10" y="199" width="5" height="1" fill="#fff"/>
<rect x="10" y="159" width="5" height="1" fill="#fff"/>
<rect x="10" y="119" width="5" height="1" fill="#fff"/>
<rect x="10" y="79" width="5" height="1" fill="#fff"/>
<rect x="10" y="39" width="5" height="1" fill="#fff"/>
<rect x="10" y="0" width="5" height="1" fill="#fff"/>
<rect x="63" y="400" width="1" height="6" fill="#fff"/>
<rect x="111" y="400" width="1" height="6" fill="#fff"/>
<rect x="159" y="400" width="1" height="6" fill="#fff"/>
<rect x="207" y="400" width="1" height="6" fill="#fff"/>
<rect x="255" y="400" width="1" height="6" fill="#fff"/>
<rect x="303" y="400" width="1" height="6" fill="#fff"/>
<rect x="351" y="400" width="1" height="6" fill="#fff"/>
<rect x="399" y="400" width="1" height="6" fill="#fff"/>
<rect x="447" y="400" width="1" height="6" fill="#fff"/>
<rect x="495" y="400" width="1" height="6" fill="#fff"/>
<rect x="543" y="400" width="1" height="6" fill="#fff"/>
<rect x="591" y="400" width="1" height="6" fill="#fff"/>
<rect x="639" y="400" width="1" height="6" fill="#fff"/>
<rect x="687" y="400" width="1" height="6" fill="#fff"/>
</g>
<g opacity="0.999" fill="#fff" stroke="#fff" stroke-width="0.3" font-family="Liberation Sans, sans-serif" font-size="10px" letter-spacing="0.44" style="text-rendering:geometricPrecision">
<text transform="translate(9.2,394.2) rotate(-90)" text-anchor="end">0</text>
<text transform="translate(9.2,352.9) rotate(-90)" text-anchor="end">1021</text>
<text transform="translate(9.2,312.9) rotate(-90)" text-anchor="end">2043</text>
<text transform="translate(9.2,273.1) rotate(-90)" text-anchor="end">3064</text>
<text transform="translate(9.2,233.2) rotate(-90)" text-anchor="end">4086</text>
<text transform="translate(9.2,193.2) rotate(-90)" text-anchor="end">5108</text>
<text transform="translate(9.2,153.4) rotate(-90)" text-anchor="end">6129</text>
<text transform="translate(9.2,113.4) rotate(-90)" text-anchor="end">7151</text>
<text transform="translate(9.2,73.6) rotate(-90)" text-anchor="end">8172</text>
<text transform="translate(9.2,33.2) rotate(-90)" text-anchor="end">9194</text>
<text transform="translate(9.2,1.4) rotate(-90)" text-anchor="end">10216</text>
<text x="51.2" y="413.9">14:01</text>
<text x="99.2" y="413.9">14:02</text>
<text x="147.2" y="413.9">14:03</text>
<text x="195.2" y="413.9">14:04</text>
<text x="243.2" y="413.9">14:05</text>
<text x="291.2" y="413.9">14:06</text>
<text x="339.2" y="413.9">14:07</text>
<text x="387.2" y="413.9">14:08</text>
<text x="435.2" y="413.9">14:09</text>
<text x="483.2" y="413.9">14:10</text>
<text x="531.2" y="413.9">14:11</text>
<text x="579.2" y="413.9">14:12</text>
<text x="627.2" y="413.9">14:13</text>
<text x="675.2" y="413.9">14:14</text>
</g>
</svg>
</body></html>
